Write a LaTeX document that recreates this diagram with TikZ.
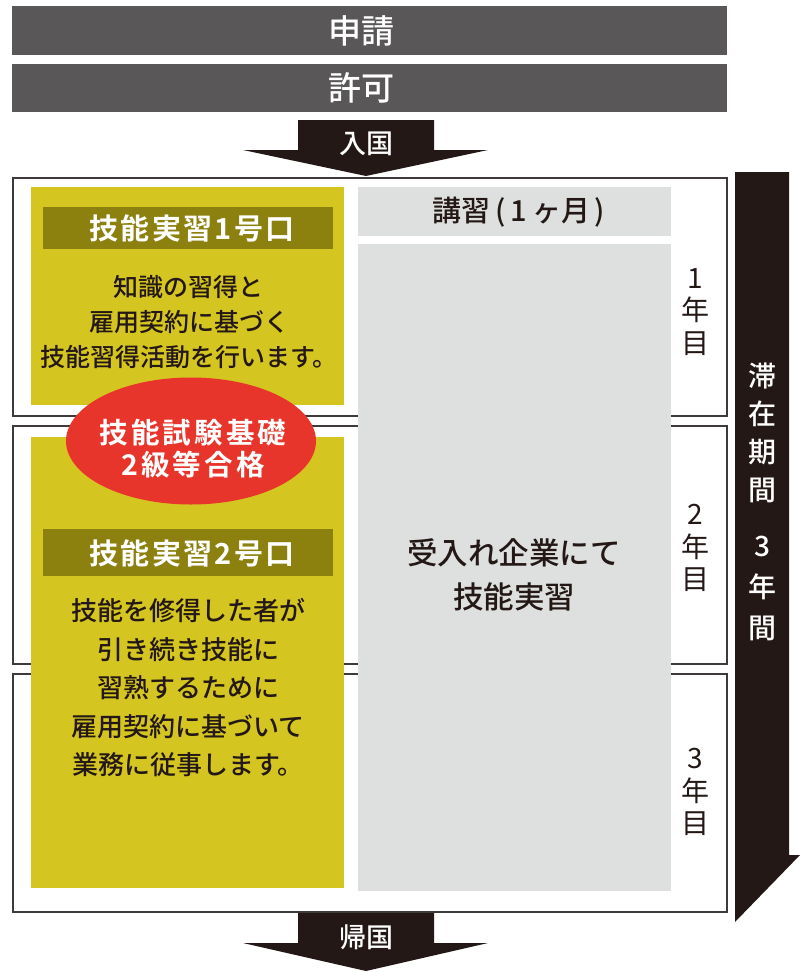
\documentclass[tikz,border=0pt]{standalone}
\usepackage{fontspec}
\setmainfont{Noto Sans CJK JP}
\IfFontExistsTF{Noto Sans CJK JP Medium}{\newfontfamily\medfam{Noto Sans CJK JP Medium}}{\newcommand\medfam{}}
\newfontfamily\headfam[LetterSpace=8]{Noto Sans CJK JP Bold}
\newfontfamily\ovalfam[LetterSpace=11]{Noto Sans CJK JP Bold}
\usetikzlibrary{shapes.geometric}
\definecolor{bargray}{HTML}{595757}
\definecolor{inkblack}{HTML}{231815}
\definecolor{panelyellow}{HTML}{D4C521}
\definecolor{headolive}{HTML}{8C800F}
\definecolor{ovalred}{HTML}{E8352B}
\definecolor{colgray}{HTML}{DEE0DF}
\definecolor{boxline}{HTML}{3E3A39}
\tikzset{
  topbar/.style={fill=bargray, draw=none},
  bartext/.style={text=white, font=\medfam\fontsize{33}{38}\selectfont},
  yearbox/.style={draw=boxline, line width=1.4pt, fill=white},
  panel/.style={fill=panelyellow, draw=none},
  headbar/.style={fill=headolive, draw=none},
  headtext/.style={text=white, font=\headfam\fontsize{29}{30}\selectfont},
  bodytext/.style={text=inkblack, align=center},
  graycol/.style={fill=colgray, draw=none},
  yeartext/.style={text=inkblack, align=center, font=\fontsize{28}{32.5}\selectfont},
  arrowfill/.style={fill=inkblack, draw=none},
  arrowtext/.style={text=white, font=\medfam\fontsize{27}{30}\selectfont},
}
\begin{document}
\begin{tikzpicture}[x=1pt,y=-1pt]
\useasboundingbox (0,0) rectangle (800,972);
% top bars
\fill[topbar] (12,6) rectangle (727,55);
\node[bartext] (apply) at (361,31) {申請};
\fill[topbar] (12,64) rectangle (727,112);
\node[bartext] (permit) at (361,88) {許可};
% entry arrow
\fill[arrowfill] (298,120) -- (434,120) -- (434,150) -- (488,150) -- (366,176) -- (243,150) -- (298,150) -- cycle;
\node[arrowtext] (entry) at (366,144) {入国};
% year boxes
\draw[yearbox] (13,178) rectangle (727,416);
\draw[yearbox] (13,426) rectangle (727,664);
\draw[yearbox] (13,674) rectangle (727,912);
% gray column
\fill[graycol] (358,187) rectangle (671,236);
\node[text=inkblack, font=\medfam\fontsize{29}{32}\selectfont] (lecture) at (519,212) {講習\,(\,1\,ヶ月\,)};
\fill[graycol] (358,244) rectangle (671,891);
\node[bodytext, font=\medfam\fontsize{30.5}{44}\selectfont] (company) at (514,575) {受入れ企業にて\\技能実習};
% yellow panels
\fill[panel] (31,187) rectangle (344,405);
\fill[headbar] (43,207) rectangle (333,249);
\node[headtext] (head1) at (192,228) {技能実習1号口};
\node[bodytext, font=\medfam\fontsize{25}{35}\selectfont] (body1) at (189,322) {知識の習得と\\雇用契約に基づく\\技能習得活動を行います。};
\fill[panel] (31,437) rectangle (344,888);
\fill[headbar] (43,529) rectangle (333,576);
\node[headtext] (head2) at (192,553) {技能実習2号口};
\node[bodytext, font=\medfam\fontsize{26}{38.5}\selectfont] (body2) at (188,688) {技能を修得した者が\\引き続き技能に\\習熟するために\\雇用契約に基づいて\\業務に従事します。};
% red oval
\node[ellipse, fill=ovalred, minimum width=250pt, minimum height=127pt, inner sep=0pt] (oval) at (191,441) {};
\node[text=white, align=center, font=\ovalfam\fontsize{28.5}{32}\selectfont] (pass) at (193,449) {技能試験基礎\\2級等合格};
% year labels
\node[yeartext] (y1) at (695,312) {1\\年\\目};
\node[yeartext] (y2) at (695,548) {2\\年\\目};
\node[yeartext] (y3) at (695,792) {3\\年\\目};
% right arrow
\fill[arrowfill] (735,172) -- (789,172) -- (789,855) -- (800,855) -- (735,922) -- cycle;
\node[text=white, align=center, font=\medfam\fontsize{28}{38}\selectfont] (stay) at (762,433) {滞\\在\\期\\間};
\node[text=white, align=center, font=\medfam\fontsize{28}{41}\selectfont] (three) at (762,588) {3\\年\\間};
% return arrow
\fill[arrowfill] (298,913) -- (434,913) -- (434,943) -- (488,943) -- (366,971) -- (243,943) -- (298,943) -- cycle;
\node[arrowtext] (return) at (366,937) {帰国};
\end{tikzpicture}
\end{document}
